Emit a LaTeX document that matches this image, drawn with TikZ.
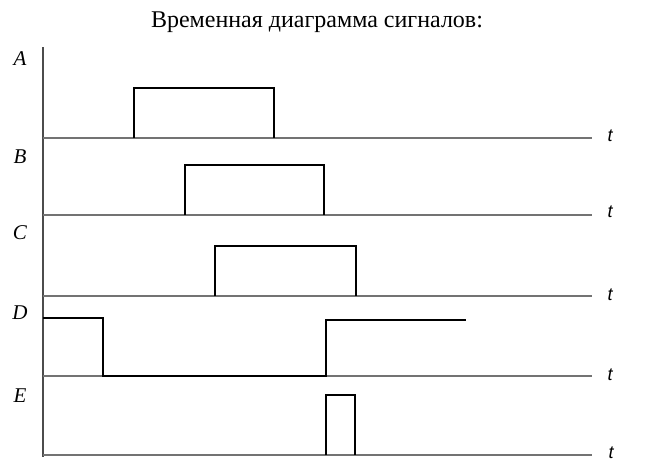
\documentclass[tikz,border=0pt]{standalone}
\usepackage{fontspec}
\setmainfont{Liberation Serif}
\newfontfamily\tfont{Liberation Sans}
\begin{document}
\begin{tikzpicture}[x=1pt,y=-1pt,
  baseln/.style={draw=black!55,line width=1.5pt},
  sig/.style={draw=black,line width=2.6pt,line join=miter},
  axisln/.style={draw=black!70,line width=1.3pt},
  lbl/.style={font=\fontsize{21}{24}\selectfont\itshape,anchor=center},
  tlbl/.style={font=\tfont\fontsize{18}{20}\selectfont\itshape,anchor=center}]
\useasboundingbox (0,0) rectangle (645,474);
\fill[white] (0,0) rectangle (645,474);
\node[font=\fontsize{24}{27}\selectfont] (title) at (317,22) {Временная диаграмма сигналов:};
% axis
\draw[axisln] (43,47) -- (43,457);
% baselines
\foreach \y/\n in {138/A,215/B,296/C,376/D,455/E}{
  \draw[baseln] (43,\y) -- (592,\y);
}
% labels
\node[lbl] (lA) at (20,59) {A};
\node[lbl] (lB) at (20,157) {B};
\node[lbl] (lC) at (20,233) {C};
\node[lbl] (lD) at (20,313) {D};
\node[lbl] (lE) at (20,396) {E};
\node[tlbl] (tA) at (610,136) {t};
\node[tlbl] (tB) at (610,212) {t};
\node[tlbl] (tC) at (610,295) {t};
\node[tlbl] (tD) at (610,375) {t};
\node[tlbl] (tE) at (611,453) {t};
% signals
\draw[sig] (134,138) -- (134,88) -- (274,88) -- (274,138);
\draw[sig] (185,215) -- (185,165) -- (324,165) -- (324,215);
\draw[sig] (215,296) -- (215,246) -- (356,246) -- (356,296);
\draw[sig] (43,318) -- (103,318) -- (103,376) -- (326,376) -- (326,320) -- (466,320);
\draw[sig] (326,455) -- (326,395) -- (355,395) -- (355,455);
\end{tikzpicture}
\end{document}
